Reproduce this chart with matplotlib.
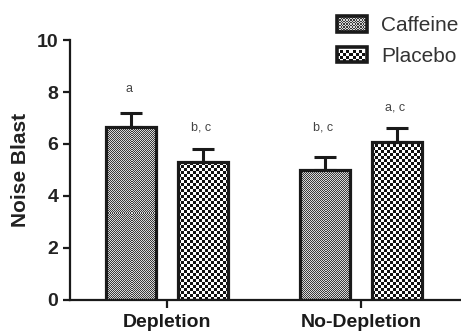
import numpy as np
import matplotlib
matplotlib.use('Agg')
import matplotlib.pyplot as plt
from matplotlib.patches import Patch, Rectangle
from matplotlib.legend_handler import HandlerBase

plt.rcParams['font.family'] = ['Liberation Sans', 'DejaVu Sans']

groups = ['Depletion', 'No-Depletion']
series = ['Caffeine', 'Placebo']
means = {'Caffeine': [6.67, 5.00], 'Placebo': [5.30, 6.09]}
errors = {'Caffeine': [0.51, 0.49], 'Placebo': [0.50, 0.51]}
letters = {'Caffeine': ['a', 'b, c'], 'Placebo': ['b, c', 'a, c']}
letter_y = {'Caffeine': [7.9, 6.42], 'Placebo': [6.42, 7.19]}

# checker cell size in pixels, dark / light tone
patterns = {'Caffeine': (1, '#3a3a3a', '#d8d8d8'), 'Placebo': (3, '#111111', '#ffffff')}
offsets = {'Caffeine': -0.186, 'Placebo': 0.186}
bar_w = 0.258
ink = '#1a1a1a'


def checker(nx, ny, dark, light):
    ii, jj = np.meshgrid(np.arange(ny), np.arange(nx), indexing='ij')
    mask = (ii + jj) % 2 == 0
    rgb_d = np.array(matplotlib.colors.to_rgb(dark))
    rgb_l = np.array(matplotlib.colors.to_rgb(light))
    return np.where(mask[..., None], rgb_d, rgb_l)


class CheckerHandler(HandlerBase):
    def __init__(self, cell, dark, light):
        super().__init__()
        self.cell = cell
        self.dark = dark
        self.light = light

    def create_artists(self, legend, orig_handle, xdescent, ydescent,
                       width, height, fontsize, trans):
        x0, y0 = -xdescent, -ydescent
        arts = [Rectangle((x0, y0), width, height, facecolor=self.light,
                          edgecolor='none', transform=trans)]
        c = self.cell
        nx = int(width / c)
        ny = int(height / c)
        for i in range(ny):
            for j in range(nx):
                if (i + j) % 2 == 0:
                    arts.append(Rectangle((x0 + j * c, y0 + i * c), c, c,
                                          facecolor=self.dark, edgecolor='none',
                                          transform=trans))
        arts.append(Rectangle((x0, y0), width, height, facecolor='none',
                              edgecolor=ink, linewidth=2.6, transform=trans))
        return arts


fig = plt.figure(figsize=(4.61, 3.31), dpi=100)
ax = fig.add_axes([0.152, 0.094, 0.846, 0.785])
ax.set_xlim(-0.5, 1.51)
ax.set_ylim(0, 10)

x = np.arange(len(groups))
for s in series:
    xs = x + offsets[s]
    bars = ax.bar(xs, means[s], width=bar_w, facecolor='none',
                  edgecolor=ink, linewidth=2.3, zorder=3)
    ax.errorbar(xs, means[s], yerr=[np.zeros(len(xs)), errors[s]], fmt='none',
                ecolor=ink, elinewidth=2.2, capsize=8, capthick=2.2, zorder=2)
    cell, dark, light = patterns[s]
    for b in bars:
        (px0, py0), (px1, py1) = ax.transData.transform(
            [(b.get_x(), 0), (b.get_x() + b.get_width(), b.get_height())])
        nx = max(1, int(round((px1 - px0) / cell)))
        ny = max(1, int(round((py1 - py0) / cell)))
        ax.imshow(checker(nx, ny, dark, light),
                  extent=(b.get_x(), b.get_x() + b.get_width(), 0, b.get_height()),
                  interpolation='nearest', aspect='auto', zorder=2.5)
    for xi, lab, ly in zip(xs, letters[s], letter_y[s]):
        ax.text(xi - 0.01, ly, lab, ha='center', va='bottom', fontsize=9,
                color='#444444')

ax.set_xlim(-0.5, 1.51)
ax.set_ylim(0, 10)
ax.set_xticks(x)
ax.set_xticklabels(groups, fontsize=14, fontweight='bold', color='#222222')
ax.set_yticks(np.arange(0, 11, 2))
ax.tick_params(axis='y', labelsize=14, width=1.6, length=5, colors=ink,
               labelcolor='#222222')
ax.tick_params(axis='x', width=1.6, length=6, colors=ink, pad=4)
for lbl in ax.get_yticklabels():
    lbl.set_fontweight('bold')
ax.set_ylabel('Noise Blast', fontsize=15, fontweight='bold', color='#222222',
              labelpad=5)

for side in ['top', 'right']:
    ax.spines[side].set_visible(False)
for side in ['left', 'bottom']:
    ax.spines[side].set_linewidth(1.6)
    ax.spines[side].set_color(ink)

handles = [Patch(label=s) for s in series]
handler_map = {h: CheckerHandler(2.3 if s == 'Placebo' else 1.0,
                                 patterns[s][1], patterns[s][2])
               for h, s in zip(handles, series)}
ax.legend(handles=handles, handler_map=handler_map, loc='upper right',
          bbox_to_anchor=(0.995, 0.952), bbox_transform=fig.transFigure,
          frameon=False, fontsize=15, handlelength=1.45, handleheight=0.8,
          handletextpad=0.7, labelspacing=0.55, borderpad=0, borderaxespad=0,
          labelcolor='#333333')

fig.savefig('out.png', dpi=100)
